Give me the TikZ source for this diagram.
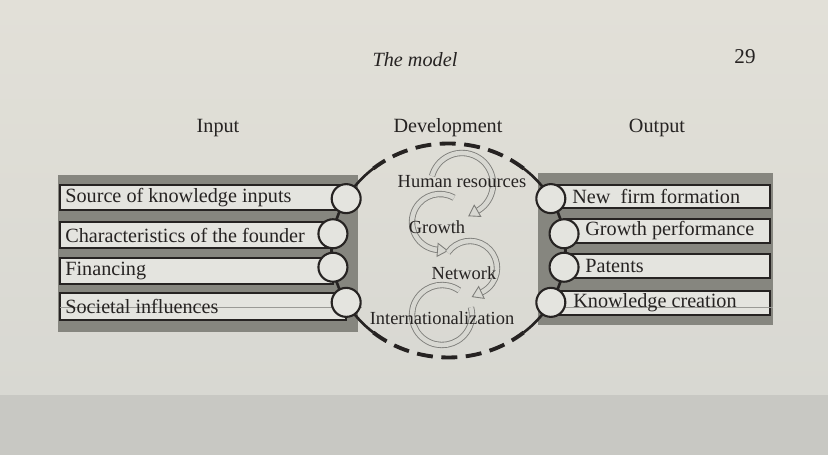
\documentclass[tikz,border=0pt]{standalone}
\usepackage{fontspec}
\setmainfont{Liberation Serif}
\usetikzlibrary{calc}
\definecolor{paper}{HTML}{D8D8D2}
\definecolor{paperlt}{HTML}{E2E0D8}
\definecolor{paperdk}{HTML}{C8C8C3}
\definecolor{band}{HTML}{86867F}
\definecolor{boxfill}{HTML}{E4E4DF}
\definecolor{ink}{HTML}{262322}
\definecolor{spiral}{HTML}{7E7E7A}
\definecolor{streak}{HTML}{9A9A96}
\begin{document}
\begin{tikzpicture}[x=0.02cm,y=0.02cm,
  lbl/.style={font=\fontsize{11.5}{13}\selectfont, text=ink, inner sep=0pt, anchor=west},
  head/.style={font=\fontsize{11.5}{13}\selectfont, text=ink, inner sep=0pt},
  ctr/.style={font=\fontsize{10.5}{12}\selectfont, text=ink, inner sep=0pt},
  circ/.style={circle, minimum size=0.58cm, inner sep=0pt, draw=ink, line width=1.2pt, fill=boxfill},
  chain/.style={draw=ink, line width=1.5pt},
  dashring/.style={draw=ink, line width=2.2pt, dash pattern=on 0.32cm off 0.17cm},
  spir/.style={draw=spiral, line width=0.5pt, double=paper, double distance=2.6pt},
  harrow/.pic={\filldraw[fill=paper, draw=spiral, line width=0.5pt] (0,-6.5) -- (10,0) -- (0,6.5) -- cycle;}
]
\useasboundingbox (0,0) rectangle (828,-455);
\shade[top color=paperlt, bottom color=paper] (0,0) rectangle (828,-395);
\fill[paperdk] (0,-395) rectangle (828,-455);

% page header
\node[font=\fontsize{11.5}{13}\selectfont\itshape, text=ink, inner sep=0pt] (title) at (415,-60) {The model};
\node[font=\fontsize{12}{14}\selectfont, text=ink, inner sep=0pt] (page) at (745,-57) {29};

% headings
\node[head] (hin) at (218,-128) {Input};
\node[head] (hdev) at (448,-128) {Development};
\node[head] (hout) at (657,-128) {Output};

\newcommand\ibox[4]{%
  \fill[boxfill] (#1,-#2) rectangle (#3,-#4);
  \draw[ink, line width=0.6pt] (#1,-#2) rectangle (#3,-#4);
  \draw[ink, line width=1.5pt] (#1,-#2) -- (#3,-#2) (#1,-#4) -- (#3,-#4);}

% gray bands
\fill[band] (58,-175) rectangle (358,-332);
\fill[band] (538,-173) rectangle (773,-325);

% boxes
\ibox{60}{185}{346}{210}
\ibox{60}{222}{333}{248}
\ibox{60}{258}{333}{284}
\ibox{60}{293}{346}{320}
\ibox{551}{185}{770}{208}
\ibox{564}{219}{770}{243}
\ibox{564}{254}{770}{278}
\ibox{551}{291}{770}{315}

% streak lines
\draw[streak, line width=0.4pt] (60,-307) -- (362,-307);
\draw[streak, line width=0.4pt] (538,-307) -- (773,-307);

% ring
\coordinate (C) at (448.5,-250.5);
\draw[chain] ($(C)+(130:117 and 107)$) arc[start angle=130, end angle=230, x radius=117, y radius=107];
\draw[chain] ($(C)+(-50:117 and 107)$) arc[start angle=-50, end angle=50, x radius=117, y radius=107];
\draw[dashring] ($(C)+(50:117 and 107)$) arc[start angle=50, end angle=130, x radius=117, y radius=107];
\draw[dashring] ($(C)+(230:117 and 107)$) arc[start angle=230, end angle=310, x radius=117, y radius=107];

% circles
\node[circ] (i1) at ($(C)+(151:117 and 107)$) {};
\node[circ] (i2) at ($(C)+(171:117 and 107)$) {};
\node[circ] (i3) at ($(C)+(189:117 and 107)$) {};
\node[circ] (i4) at ($(C)+(209:117 and 107)$) {};
\node[circ] (o1) at ($(C)+(29:117 and 107)$) {};
\node[circ] (o2) at ($(C)+(9:117 and 107)$) {};
\node[circ] (o3) at ($(C)+(-9:117 and 107)$) {};
\node[circ] (o4) at ($(C)+(-29:117 and 107)$) {};

% box labels
\node[lbl] (l1) at (65,-197.5) {Source of knowledge inputs};
\node[lbl] (l2) at (65,-235) {Characteristics of the founder};
\node[lbl] (l3) at (65,-271) {Financing};
\node[lbl] (l4) at (65,-306.5) {Societal influences};
\node[lbl] (r1) at (572,-196.5) {New\ \ firm formation};
\node[lbl] (r2) at (585,-231) {Growth performance};
\node[lbl] (r3) at (585,-266) {Patents};
\node[lbl] (r4) at (573,-303) {Knowledge creation};

% spiral arrows
\coordinate (A1) at (462,-184);
\coordinate (A2) at (440,-222);
\coordinate (A3) at (470,-268);
\coordinate (A4) at (442,-315);
\draw[spir] ($(A1)+(165:31)$) arc[start angle=165, end angle=-60, radius=31];
\pic[rotate=-150] at ($(A1)+(-60:31)$) {harrow};
\draw[spir] ($(A2)+(60:28)$) arc[start angle=60, end angle=265, radius=28];
\pic[rotate=355] at ($(A2)+(265:28)$) {harrow};
\draw[spir] ($(A3)+(145:27)$) arc[start angle=145, end angle=-65, radius=27];
\pic[rotate=-155] at ($(A3)+(-65:27)$) {harrow};
\draw[spir] ($(A4)+(55:30)$) arc[start angle=55, end angle=375, radius=30];

% centre labels
\node[ctr] (hr) at (462,-182) {Human resources};
\node[ctr] (gr) at (437,-227) {Growth};
\node[ctr] (nw) at (464,-273) {Network};
\node[ctr] (in) at (442,-318) {Internationalization};
\end{tikzpicture}
\end{document}
